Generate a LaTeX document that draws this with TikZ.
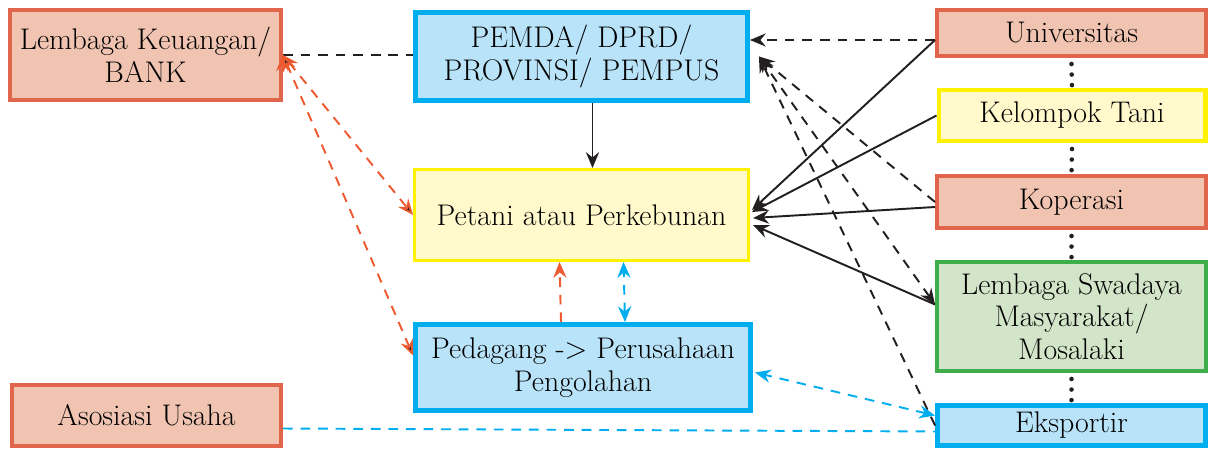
\documentclass[tikz,border=0pt]{standalone}
\usepackage{tikz}
\usetikzlibrary{arrows.meta, calc}
\definecolor{boxred}{HTML}{E0654B}
\definecolor{boxsalmon}{HTML}{F0C4B1}
\definecolor{boxblue}{HTML}{00AEEF}
\definecolor{boxlblue}{HTML}{B9E3F8}
\definecolor{boxyellow}{HTML}{FFF200}
\definecolor{boxlyellow}{HTML}{FFF9CC}
\definecolor{boxgreen}{HTML}{3DAE49}
\definecolor{boxlgreen}{HTML}{D2E5C8}
\definecolor{arrred}{HTML}{EE5A30}
\definecolor{ink}{HTML}{231F20}

\begin{document}
\begin{tikzpicture}
	[x=0.02cm, y=-0.02cm, >={Stealth[length=9pt, width=7.5pt, inset=3pt]}, line width=1.1pt, draw=ink,
	 box/.style={draw, line width=2.3pt, align=center, inner sep=0pt, text=black,
	   font=\fontsize{17}{18.5}\selectfont},
	 merah/.style={box, draw=boxred, fill=boxsalmon},
	 biru/.style={box, draw=boxblue, fill=boxlblue, line width=2.8pt},
	 kuning/.style={box, draw=boxyellow, fill=boxlyellow},
	 hijau/.style={box, draw=boxgreen, fill=boxlgreen},
	 putus/.style={dash pattern=on 5.5pt off 4.5pt},
	 titik/.style={line width=2.6pt, line cap=round, dash pattern=on 0pt off 6pt}]
   \useasboundingbox (0,0) rectangle (1209,450);
   % left column
   \node[merah, minimum width=5.42cm, minimum height=1.8cm] (bank) at (145.5,55) {Lembaga Keuangan/\\BANK};
   \node[merah, minimum width=5.38cm, minimum height=1.22cm] (aso) at (146.5,415.5) {Asosiasi Usaha};
   % middle column
   \node[biru, minimum width=6.64cm, minimum height=1.76cm] (pemda) at (581.5,56.5) {PEMDA/ DPRD/\\PROVINSI/ PEMPUS};
   \node[kuning, line width=1.7pt, minimum width=6.68cm, minimum height=1.82cm] (pet) at (581.5,215) {Petani atau Perkebunan};
   \node[biru, minimum width=6.7cm, minimum height=1.72cm] (ped) at (583,367.5) {Pedagang -> Perusahaan\\Pengolahan};
   % right column
   \node[merah, minimum width=5.38cm, minimum height=0.92cm] (univ) at (1071.5,33) {Universitas};
   \node[kuning, minimum width=5.34cm, minimum height=1.02cm] (kel) at (1072,115.5) {Kelompok Tani};
   \node[merah, minimum width=5.38cm, minimum height=1.04cm] (kop) at (1071.5,202) {Koperasi};
   \node[hijau, minimum width=5.38cm, minimum height=2.18cm] (lsm) at (1071.5,316.5) {Lembaga Swadaya\\Masyarakat/\\Mosalaki};
   \node[biru, minimum width=5.36cm, minimum height=0.8cm] (eks) at (1071.5,425.5) {Eksportir};

   \coordinate (uw) at ($(univ.west)+(0,7)$);
   \coordinate (lw) at ($(lsm.west)+(0,-12)$);
   \coordinate (pin) at ($(pemda.east)+(9,0)$);

   % dotted spine
   \draw[titik] ($(univ.south)+(0,6)$) -- (kel.north) ($(kel.south)+(0,6)$) -- (kop.north)
     ($(kop.south)+(0,6)$) -- (lsm.north) ($(lsm.south)+(0,6)$) -- (eks.north);

   % black dashed
   \draw[putus] (bank.east) -- (bank.east -| pemda.west);
   \draw[putus,->] (uw) -- (uw -| pemda.east);
   \path[putus,->]
    (kop.west) edge (pin)
    (eks.west) edge (pin);
   \draw[putus,<->] (lw) -- (pin);

   % solid arrows
   \draw[->] ($(pemda.south)+(11,0)$) -- ($(pet.north)+(11,0)$);
   \path[->]
    (uw) edge ($(pet.east)+(2,-5)$)
    (kel.west) edge ($(pet.east)+(2,-3)$)
    ($(kop.west)+(0,5)$) edge ($(pet.east)+(3,3)$)
    (lw) edge ($(pet.east)+(3,10)$);

   % red dashed
   \path[putus, draw=arrred, color=arrred, <->]
    (bank.east) edge (pet.west)
    (bank.east) edge ($(ped.west)+(0,-12)$);
   \draw[putus, arrred, ->] ($(ped.north)+(-22,0)$) -- ($(pet.south)+(-22,0)$);

   % blue dashed
   \draw[putus, boxblue, <->] ($(ped.north)+(42,0)$) -- ($(pet.south)+(42,0)$);
   \draw[putus, boxblue, <->] ($(eks.west)+(0,-10)$) -- ($(ped.east)+(2,5)$);
   \draw[putus, boxblue] ($(aso.east)+(0,13)$) -- ($(eks.west)+(0,6)$);
\end{tikzpicture}
\end{document}
